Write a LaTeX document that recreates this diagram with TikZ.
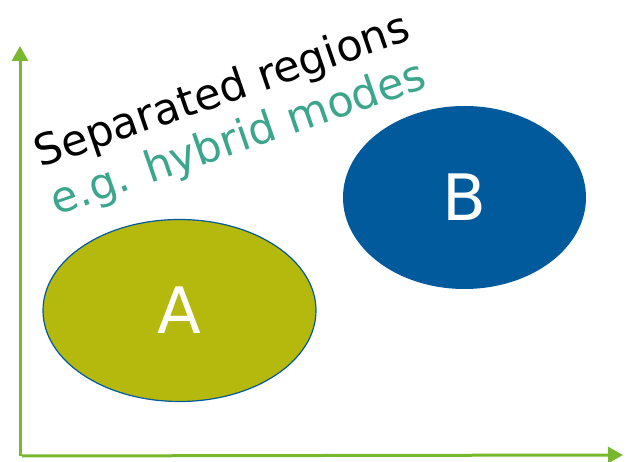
\documentclass[tikz,border=0pt]{standalone}
\usepackage{fontspec}
\setmainfont{DejaVu Sans}
\usetikzlibrary{arrows.meta,shapes.geometric}
\definecolor{axisgreen}{HTML}{77B82E}
\definecolor{olive}{HTML}{B5B80D}
\definecolor{darkblue}{HTML}{005A9B}
\definecolor{teal}{HTML}{3BA68C}
\tikzset{
  axis/.style={axisgreen, line width=3pt, -{Triangle[length=15pt,width=16pt]}},
  region/.style={ellipse, inner sep=0pt},
  biglabel/.style={white, font=\fontsize{64}{72}\selectfont},
  slanted/.style={anchor=base west, rotate=19, inner sep=0pt, font=\fontsize{43}{50}\selectfont}
}
\begin{document}
\begin{tikzpicture}[x=1pt,y=-1pt]
\useasboundingbox (0,0) rectangle (641,462);
\coordinate (origin) at (20,456);
\coordinate (ytip) at (20,46);
\coordinate (xorigin) at (22,456);
\coordinate (xtip) at (623,455);
\draw[axis] (origin) -- (ytip);
\draw[axis] (xorigin) -- (xtip);
\node[region, fill=olive, draw=darkblue, line width=1.2pt, minimum width=273pt, minimum height=182pt] (A) at (179.5,310.5) {};
\node[region, fill=darkblue, minimum width=243pt, minimum height=183pt] (B) at (464.5,197.5) {};
\node[biglabel] (Alab) at (A.center) {A};
\node[biglabel] (Blab) at (B.center) {B};
\node[slanted] (t1) at (40,168) {Separated regions};
\node[slanted, text=teal] (t2) at (56,216) {e.g. hybrid modes};
\end{tikzpicture}
\end{document}
